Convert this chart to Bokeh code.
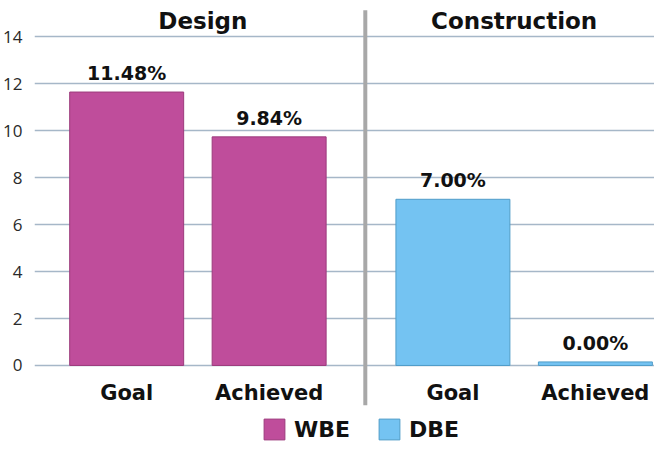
from bokeh.plotting import figure
from bokeh.models import ColumnDataSource, Range1d, FixedTicker, Legend, LegendItem
from bokeh.core.properties import value
from bokeh.embed import file_html
from bokeh.resources import INLINE

# ---- data ----
groups = ["Design", "Construction"]
programs = ["WBE", "DBE"]
categories = ["Goal", "Achieved"]
bar_values = [11.65, 9.74, 7.08, 0.15]          # bar heights as drawn
bar_labels = ["11.48%", "9.84%", "7.00%", "0.00%"]
y_ticks = [0, 2, 4, 6, 8, 10, 12, 14]
colors = ["#bf4d9b", "#74c3f2"]
edge_colors = ["#9c3a7c", "#4f9cc8"]

GAP = 0.29      # extra spacing between the two groups
BAR_W = 0.80

# positions derived from the category structure
xs, tops, labs, cats, progs, fills, lines = [], [], [], [], [], [], []
group_centers = []
k = 0
for gi, g in enumerate(groups):
    start = gi * (len(categories) + GAP)
    for si, c in enumerate(categories):
        xs.append(start + si)
        tops.append(bar_values[k])
        labs.append(bar_labels[k])
        cats.append(c)
        progs.append(programs[gi])
        fills.append(colors[gi])
        lines.append(edge_colors[gi])
        k += 1
    group_centers.append(start + (len(categories) - 1) / 2)

src = ColumnDataSource(dict(x=xs, top=tops, label=labs, cat=cats,
                            prog=progs, fill=fills, line=lines))
title_src = ColumnDataSource(dict(x=group_centers, y=[14.66] * len(groups),
                                  text=groups, dx=[5, -10]))

p = figure(width=654, height=441, output_backend="svg", toolbar_location=None,
           x_range=Range1d(-0.647, 3.705), y_range=Range1d(-3.24, 15.55),
           min_border_left=28, min_border_right=0, min_border_top=0,
           min_border_bottom=0, x_axis_location=None)
p.outline_line_color = None
p.background_fill_color = "white"
p.border_fill_color = "white"

# grid / axis
p.xgrid.visible = False
p.ygrid.ticker = FixedTicker(ticks=y_ticks)
p.ygrid.grid_line_color = "#a6b7c8"
p.ygrid.grid_line_width = 1.3
p.yaxis.ticker = FixedTicker(ticks=y_ticks)
p.yaxis.axis_line_color = None
p.yaxis.major_tick_line_color = None
p.yaxis.minor_tick_line_color = None
p.yaxis.major_label_text_font = "Open Sans"
p.yaxis.major_label_text_font_size = "17px"
p.yaxis.major_label_text_color = "#2a2a2a"
p.yaxis.major_label_standoff = 6

# separator between the two groups
sep_x = (len(categories) - 1) + GAP / 2 + 0.53
p.segment(x0=[sep_x], y0=[-1.70], x1=[sep_x], y1=[15.13],
          line_color="#a8a8a8", line_width=4)

bars = p.vbar(x="x", top="top", bottom=0, width=BAR_W, source=src,
              fill_color="fill", line_color="line", line_width=1)

# value labels
p.text(x="x", y="top", text="label", source=src, text_align="center",
       text_baseline="bottom", y_offset=-8, text_font=value("DejaVu Sans"),
       text_font_style="bold", text_font_size="19px", text_color="#111111")

# category labels
p.text(x="x", y=-1.19, text="cat", source=src, text_align="center",
       text_baseline="middle", text_font=value("DejaVu Sans"),
       text_font_style="bold", text_font_size="21px", text_color="#111111")

# group titles
p.text(x="x", y="y", text="text", x_offset="dx", source=title_src,
       text_align="center", text_baseline="middle",
       text_font=value("DejaVu Sans"), text_font_style="bold",
       text_font_size="23px", text_color="#111111")

legend = Legend(items=[LegendItem(label=programs[0], renderers=[bars], index=0),
                       LegendItem(label=programs[1], renderers=[bars], index=2)],
                orientation="horizontal", location=(227, -1),
                glyph_width=26, glyph_height=26, label_standoff=7, spacing=26,
                padding=0, margin=0, border_line_color=None,
                background_fill_alpha=0, label_text_font="DejaVu Sans",
                label_text_font_style="bold", label_text_font_size="22px",
                label_text_color="#111111")
p.add_layout(legend, "center")

open("out.html", "w").write(file_html(p, INLINE))
